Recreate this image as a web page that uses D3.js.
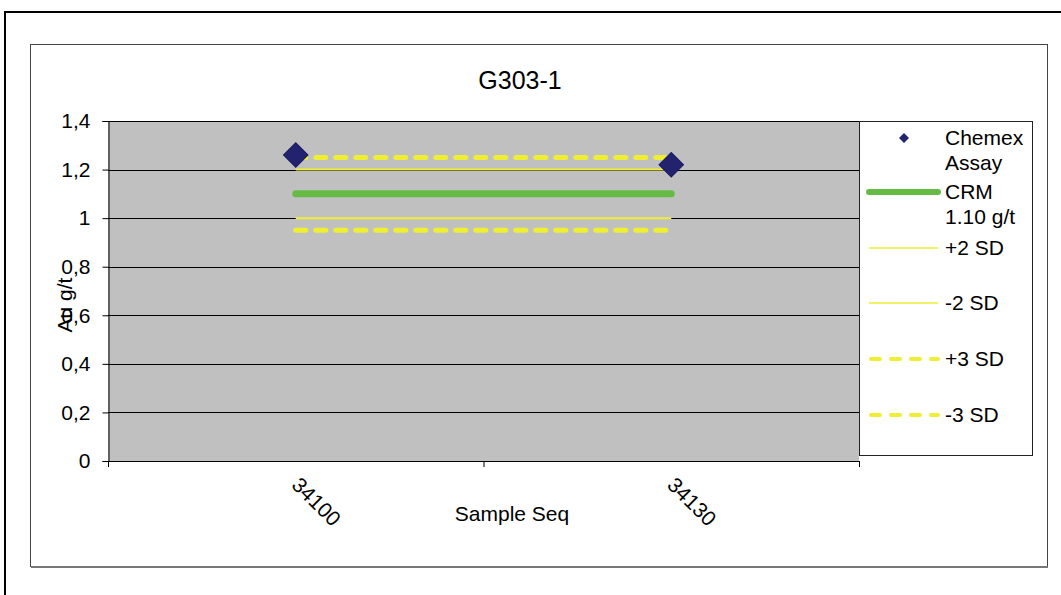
<!DOCTYPE html>
<meta charset="utf-8">
<style>
html, body { margin: 0; overflow: hidden; background: #fff; }
text { font-family: "Liberation Sans", Arial, sans-serif; fill: #000; }
</style>
<body>
<script src="https://cdn.jsdelivr.net/npm/d3@7"></script>
<script>
var categories = ["34100", "34130"];
var assay = [1.26, 1.22];
var crm = 1.10, plus2 = 1.20, minus2 = 1.00, plus3 = 1.25, minus3 = 0.95;
var yTicks = [0, 0.2, 0.4, 0.6, 0.8, 1, 1.2, 1.4];

var width = 1061, height = 595;
var svg = d3.select("body").append("svg")
    .attr("width", width)
    .attr("height", height);

// outer frame
svg.append("path")
    .attr("d", "M5,595 V12 H1061")
    .attr("fill", "none")
    .attr("stroke", "#000")
    .attr("stroke-width", 2);

// chart box
svg.append("rect")
    .attr("x", 30.5).attr("y", 44.5)
    .attr("width", 1017).attr("height", 522)
    .attr("fill", "#fff")
    .attr("stroke", "#444")
    .attr("stroke-width", 1);
svg.append("line")
    .attr("x1", 31).attr("x2", 1048).attr("y1", 567).attr("y2", 567)
    .attr("stroke", "#777").attr("stroke-width", 2);

svg.append("text")
    .attr("x", 520).attr("y", 89)
    .attr("text-anchor", "middle")
    .attr("font-size", 25)
    .text("G303-1");

var pLeft = 108, pRight = 859, pTop = 121, pBottom = 461;

var x = d3.scaleBand().domain(categories).range([pLeft, pRight]);
var y = d3.scaleLinear().domain([0, 1.4]).range([pBottom, pTop]);

svg.append("rect")
    .attr("x", pLeft).attr("y", pTop)
    .attr("width", pRight - pLeft).attr("height", pBottom - pTop)
    .attr("fill", "#c0c0c0");

// gridlines
svg.append("g").selectAll("line").data(yTicks.slice(1)).join("line")
    .attr("x1", pLeft).attr("x2", pRight)
    .attr("y1", d => Math.round(y(d)) + 0.5).attr("y2", d => Math.round(y(d)) + 0.5)
    .attr("stroke", "#000").attr("stroke-width", 1);

// y axis
var yAxis = svg.append("g")
    .attr("transform", "translate(" + (pLeft + 0.5) + ",0)")
    .call(d3.axisLeft(y).tickValues(yTicks).tickSize(6).tickPadding(12)
      .tickFormat(d => String(d).replace(".", ",")));
yAxis.selectAll("text").attr("font-size", 21).attr("font-family", "Liberation Sans, Arial, sans-serif").attr("fill", "#000");
yAxis.selectAll("line, path").attr("stroke", "#000");

// x axis
var xAxis = svg.append("g")
    .attr("transform", "translate(0," + pBottom + ")");
xAxis.append("line")
    .attr("x1", pLeft).attr("x2", pRight).attr("y1", 0.5).attr("y2", 0.5)
    .attr("stroke", "#000");
var bounds = [pLeft].concat(categories.map(c => x(c) + x.bandwidth()));
xAxis.selectAll(".tk").data(bounds).join("line")
    .attr("x1", d => d + 0.5).attr("x2", d => d + 0.5)
    .attr("y1", 0).attr("y2", 6)
    .attr("stroke", "#000");
xAxis.selectAll(".lbl").data(categories).join("text")
    .attr("transform", d => "translate(" + (x(d) + x.bandwidth() / 2 + 6) + ",14) rotate(45)")
    .attr("font-size", 21)
    .attr("dy", "0.75em")
    .text(d => d);

svg.append("text")
    .attr("x", 512).attr("y", 521)
    .attr("text-anchor", "middle")
    .attr("font-size", 21)
    .text("Sample Seq");

svg.append("text")
    .attr("transform", "translate(72,305) rotate(-90)")
    .attr("text-anchor", "middle")
    .attr("font-size", 21)
    .text("Au g/t");

// reference lines
var yellow = "#eeee33", green = "#66bb44";
var x0 = x(categories[0]) + x.bandwidth() / 2;
var x1 = x(categories[categories.length - 1]) + x.bandwidth() / 2;
var refs = [
  {v: minus3, color: yellow, w: 5, dash: "10,10"},
  {v: plus3, color: yellow, w: 5, dash: "10,10"},
  {v: minus2, color: yellow, w: 2, dash: null},
  {v: plus2, color: yellow, w: 2, dash: null},
  {v: crm, color: green, w: 7, dash: null}
];
svg.append("g").selectAll("line").data(refs).join("line")
    .attr("x1", x0).attr("x2", x1)
    .attr("y1", d => y(d.v)).attr("y2", d => y(d.v))
    .attr("stroke", d => d.color)
    .attr("stroke-width", d => d.w)
    .attr("stroke-dasharray", d => d.dash)
    .attr("stroke-linecap", d => d.w > 3 ? "round" : "butt");

// assay points
var diamond = d3.symbol().type(d3.symbolSquare).size(300);
svg.append("g").selectAll("path").data(assay).join("path")
    .attr("d", diamond)
    .attr("transform", (d, i) => "translate(" + (x(categories[i]) + x.bandwidth() / 2) + "," + y(d) + ") rotate(45)")
    .attr("fill", "#22226e")
    .attr("stroke", "#1a1a60")
    .attr("stroke-width", 1);

// legend
var lg = svg.append("g");
lg.append("rect")
    .attr("x", 859.5).attr("y", 121.5)
    .attr("width", 173).attr("height", 334)
    .attr("fill", "#fff").attr("stroke", "#222");

lg.append("path")
    .attr("d", d3.symbol().type(d3.symbolSquare).size(50))
    .attr("transform", "translate(904,138) rotate(45)")
    .attr("fill", "#22226e");

var legendItems = [
  {ly: 192, color: green, w: 6, dash: null, lines: ["CRM", "1.10 g/t"]},
  {ly: 248, color: yellow, w: 1.5, dash: null, lines: ["+2 SD"]},
  {ly: 303, color: yellow, w: 1.5, dash: null, lines: ["-2 SD"]},
  {ly: 359, color: yellow, w: 4, dash: "9,11", lines: ["+3 SD"]},
  {ly: 415, color: yellow, w: 4, dash: "9,11", lines: ["-3 SD"]}
];
lg.selectAll(".ll").data(legendItems).join("line")
    .attr("x1", d => d.dash ? 871 : 869).attr("x2", 938)
    .attr("y1", d => d.ly).attr("y2", d => d.ly)
    .attr("stroke", d => d.color)
    .attr("stroke-width", d => d.w)
    .attr("stroke-dasharray", d => d.dash)
    .attr("stroke-linecap", d => d.w > 3 ? "round" : "butt");

var textItems = [{ly: 138, lines: ["Chemex", "Assay"]}].concat(legendItems);
lg.selectAll(".lt").data(textItems).join("text")
    .attr("x", 945)
    .attr("y", d => d.ly + 7)
    .attr("font-size", 21)
    .each(function(d) {
      d3.select(this).selectAll("tspan").data(d.lines).join("tspan")
        .attr("x", 945)
        .attr("dy", (t, i) => i === 0 ? 0 : 25)
        .text(t => t);
    });
</script>
</body>
